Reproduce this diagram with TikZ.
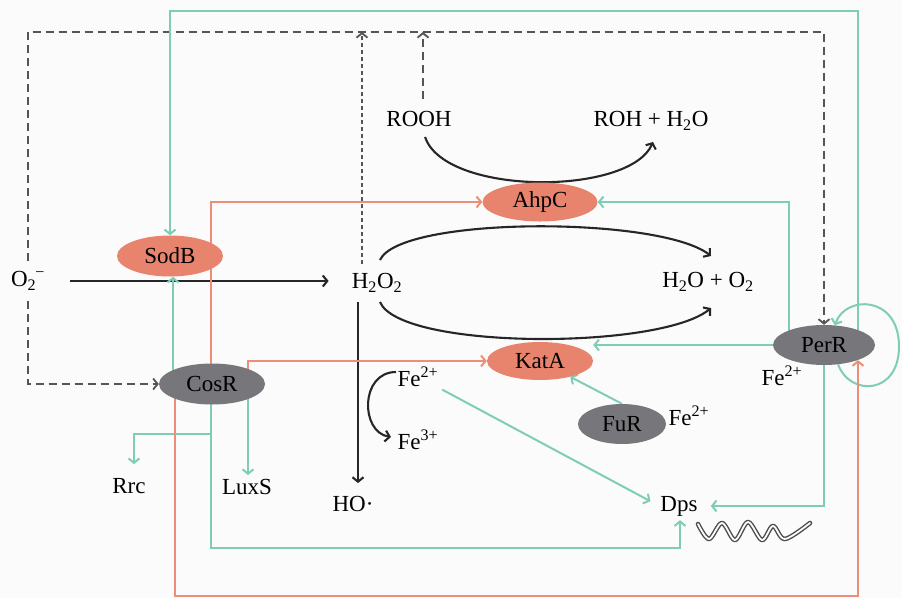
\documentclass[tikz,border=0pt]{standalone}
\usepackage{fontspec}
\setmainfont{Liberation Serif}
\usetikzlibrary{arrows.meta,shapes.geometric}
\definecolor{enzfill}{HTML}{E8846E}
\definecolor{regfill}{HTML}{77767B}
\definecolor{ocol}{HTML}{EE8E78}
\definecolor{gcol}{HTML}{7FCDB6}
\definecolor{dashc}{HTML}{555555}
\definecolor{bgc}{HTML}{FBFBFB}
\pgfdeclarelayer{back}
\pgfdeclarelayer{lines}
\pgfsetlayers{back,lines,main}
\begin{document}
\begin{tikzpicture}[x=1pt,y=-1pt,
  every node/.style={inner sep=1pt, font=\fontsize{23}{27}\selectfont},
  enz/.style={ellipse, fill=enzfill, inner sep=0pt},
  reg/.style={ellipse, fill=regfill, inner sep=0pt},
  tipv/.style={-{Straight Barb[length=4.5pt,width=11pt]}},
  gcon/.style={draw=gcol, line width=2pt, tipv},
  ocon/.style={draw=ocol, line width=2pt, tipv},
  bcon/.style={draw=black!85, line width=2.1pt, tipv},
  dcon/.style={draw=dashc, line width=1.8pt, dash pattern=on 8pt off 5pt},
]
\begin{pgfonlayer}{back}
\fill[bgc] (0,0) rectangle (902,598);
\end{pgfonlayer}
\path[use as bounding box] (0,0) rectangle (902,598);

% ellipses
\node[enz, minimum width=106pt, minimum height=41pt] (sodb) at (170,256) {SodB};
\node[enz, minimum width=115pt, minimum height=39pt] (ahpc) at (540,202) {AhpC};
\node[enz, minimum width=106pt, minimum height=38pt] (kata) at (540,361) {KatA};
\node[reg, minimum width=106pt, minimum height=41pt] (cosr) at (212,384) {CosR};
\node[reg, minimum width=88pt, minimum height=40pt] (fur) at (622,424) {FuR};
\node[reg, minimum width=102pt, minimum height=40pt] (perr) at (824,345) {PerR};

% labels
\node (o2) at (28,281) {O\textsubscript{2}\kern-1pt\textsuperscript{−}};
\node (h2o2) at (377,283) {H\textsubscript{2}O\textsubscript{2}};
\node (rooh) at (419,119) {ROOH};
\node (roh) at (651,121) {ROH + H\textsubscript{2}O};
\node (h2o) at (708,282) {H\textsubscript{2}O + O\textsubscript{2}};
\node (fe2a) at (418,377) {Fe\textsuperscript{2+}};
\node (fe3) at (418,440) {Fe\textsuperscript{3+}};
\node (ho) at (353,504) {HO·};
\node (rrc) at (129,486) {Rrc};
\node (luxs) at (247,487) {LuxS};
\node (dps) at (679,506) {Dps};
\node (fe2b) at (689,416) {Fe\textsuperscript{2+}};
\node (fe2c) at (782,376) {Fe\textsuperscript{2+}};

% helper coordinates
\coordinate (ytop) at (0,11);
\coordinate (ydash) at (0,32);
\coordinate (ybot) at (0,596);
\coordinate (ydpsb) at (0,548);
\coordinate (yrrc) at (0,434);
\coordinate (cx1) at ([xshift=-39pt]cosr.center);
\coordinate (cx2) at ([xshift=-1pt]cosr.center);
\coordinate (cx3) at ([xshift=36pt]cosr.center);
\coordinate (cx4) at ([xshift=-37pt]cosr.center);
\coordinate (px1) at ([xshift=-35pt]perr.center);
\coordinate (hx) at ([xshift=-15pt]h2o2.north);
\coordinate (hv) at ([xshift=-19pt]h2o2.south);
\coordinate (rx) at ([xshift=4pt]rooh.north);
\coordinate (rrct) at ([shift={(5pt,13pt)}]rrc.north);
\coordinate (luxt) at ([yshift=3pt]luxs.north);
\coordinate (dpsb) at ([shift={(1pt,-3pt)}]dps.south);

\begin{pgfonlayer}{lines}
% dashed signalling bus
\draw[dcon, tipv, shorten <=9pt] (o2.north) -- (o2.north |- ydash) -- (perr.north |- ydash) -- (perr.north);
\draw[dcon, tipv, shorten <=9pt] (o2.south) -- (o2.south |- cosr.west) -- (cosr.west);
\draw[dcon, dash pattern=on 4pt off 3pt, tipv, shorten <=8pt] (hx) -- (hx |- ydash);
\draw[dcon, tipv, shorten <=11pt] (rx) -- (rx |- ydash);

% black reactions
\draw[bcon, shorten <=24pt, shorten >=22pt] (o2.east) -- (o2.east -| h2o2.west);
\draw[bcon, shorten <=8pt, shorten >=12pt] (hv) -- (hv |- ho.north);
\coordinate (a1s) at (380,260); \coordinate (a1e) at (711,256);
\draw[bcon] (a1s) .. controls (400,216) and (660,216) .. (a1e);
\coordinate (a2s) at (380,302); \coordinate (a2e) at (711,308);
\draw[bcon] (a2s) .. controls (400,350) and (660,350) .. (a2e);
\coordinate (a3s) at (425,137); \coordinate (a3e) at (653,142);
\draw[bcon] (a3s) .. controls (445,196) and (630,196) .. (a3e);
\coordinate (f1s) at (396,372); \coordinate (f1e) at (391,437);
\draw[bcon] (f1s) .. controls (360,372) and (360,432) .. (f1e);

% green regulation
\draw[gcon] (perr.24) -- (perr.24 |- ytop) -- (sodb.north |- ytop) -- (sodb.north);
\draw[gcon] (cx1) -- (cx1 |- sodb.south);
\draw[gcon] (cx2) -- (cx2 |- ydpsb) -- (dpsb |- ydpsb) -- (dpsb);
\draw[gcon] (cx2 |- yrrc) -- (rrct |- yrrc) -- (rrct);
\draw[gcon] (cx3) -- (cx3 |- luxt);
\draw[gcon] (px1) -- (px1 |- ahpc.east) -- (ahpc.east);
\draw[gcon] (perr.west) -- (perr.west -| kata.east);
\draw[gcon] (perr.south) -- (perr.south |- dps.east) -- ([xshift=12pt]dps.east);
\draw[gcon] (fur.north) -- (kata);
\draw[gcon, shorten <=3pt, shorten >=10pt] (fe2a.south east) -- (dps.west);
\draw[gcon] (perr.-54) .. controls (850,397) and (900,395) .. (899,345)
   .. controls (898,295) and (845,295) .. (perr.61);

% orange regulation
\draw[ocon] (cx2) -- (cx2 |- ahpc.west) -- (ahpc.west);
\draw[ocon] (cx3) -- (cx3 |- kata.west) -- (kata.west);
\draw[ocon] (cx4) -- (cx4 |- ybot) -- (perr.-24 |- ybot) -- (perr.-24);
\end{pgfonlayer}

% DNA ribbon
\draw[black!70, line width=4.6pt, line cap=round, line join=round]
  plot[smooth, tension=0.55] coordinates {(698,524) (709,539) (722,523) (735,540) (748,522) (762,540) (773,526) (785,539) (810,523)};
\draw[bgc, line width=1.8pt, line cap=round, line join=round]
  plot[smooth, tension=0.55] coordinates {(698,524) (709,539) (722,523) (735,540) (748,522) (762,540) (773,526) (785,539) (810,523)};
\end{tikzpicture}
\end{document}
